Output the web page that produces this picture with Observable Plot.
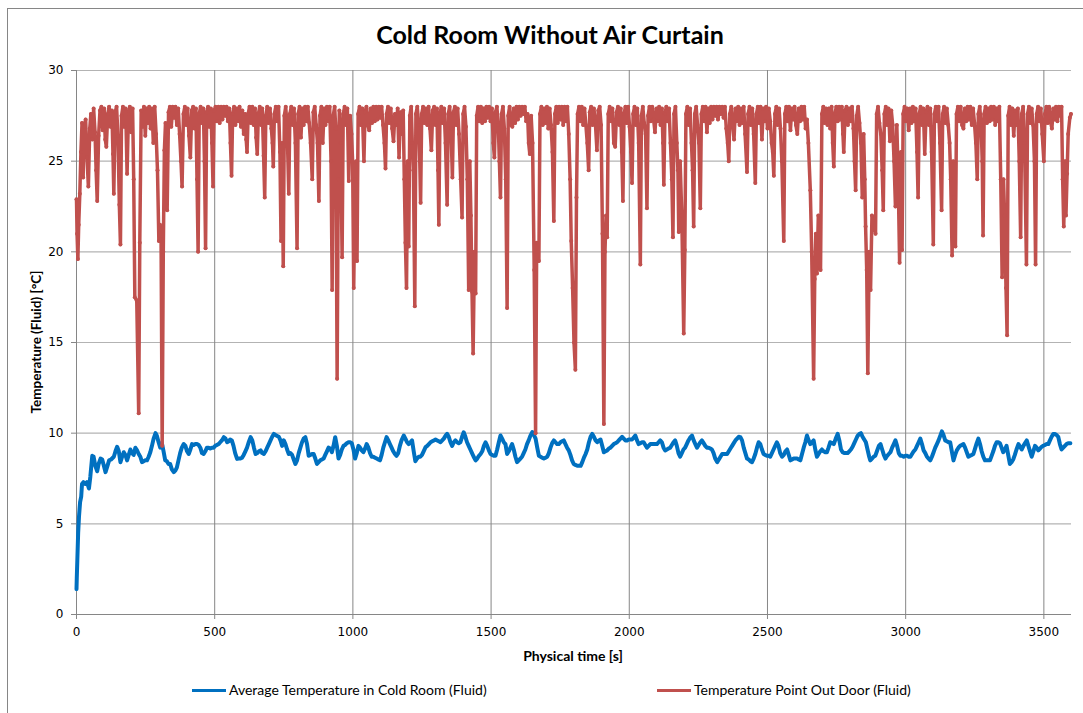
<!DOCTYPE html>
<html>
<head>
<meta charset="utf-8">
<script src="https://cdn.jsdelivr.net/npm/d3@7"></script>
<script src="https://cdn.jsdelivr.net/npm/@observablehq/plot@0.6"></script>
<style>
  body { margin: 0; background: #fff; overflow: hidden; }
  #chart { position: relative; width: 1083px; height: 713px; overflow: hidden; background: #fff; }
  #chart svg { position: absolute; left: 0; top: 0; }
  .frame { position: absolute; left: 7px; top: 8px; width: 1200px; height: 800px; border: 1px solid #868686; box-sizing: border-box; }
  .title { position: absolute; left: 0; top: 19px; width: 1100px; text-align: center; font: bold 25px Lato, sans-serif; color: #000; }
  .xlabel { position: absolute; left: 473px; width: 200px; top: 647px; text-align: center; font: bold 14px Lato, sans-serif; color: #000; }
  .ylabel { position: absolute; left: 36px; top: 342px; transform: translate(-50%, -50%) rotate(-90deg); white-space: nowrap; font: bold 13.5px Lato, sans-serif; color: #000; }
  .legend-line { position: absolute; height: 3px; width: 34px; }
  .legend-text { position: absolute; top: 681px; font: 14px Lato, sans-serif; color: #000; white-space: nowrap; }
</style>
</head>
<body>
<div id="chart">
  <div class="frame"></div>
  <div class="title">Cold Room Without Air Curtain</div>
  <div class="xlabel">Physical time [s]</div>
  <div class="ylabel">Temperature (Fluid) [°C]</div>
  <div class="legend-line" style="left:192px; top:689px; background:#0070C0"></div>
  <div class="legend-text" style="left:229px">Average Temperature in Cold Room (Fluid)</div>
  <div class="legend-line" style="left:657px; top:689px; background:#C0504D"></div>
  <div class="legend-text" style="left:694px">Temperature Point Out Door (Fluid)</div>
</div>
<script>
// Axis ticks
const timeTicks = [0, 500, 1000, 1500, 2000, 2500, 3000, 3500];
const tempTicks = [0, 5, 10, 15, 20, 25, 30];

// Series names (legend)
const seriesNames = ["Average Temperature in Cold Room (Fluid)", "Temperature Point Out Door (Fluid)"];

// Average temperature in the cold room: [time s, °C]
const coldRoomAvg = [
[0,1.4],[1,2.0],[3,3.0],[6,4.5],[9,5.4],[13,6.2],[17,6.5],[20,7.2],[25,7.3],[32,7.2],[38,7.3],[45,6.95],[50,7.6],[57,8.75],[62,8.7],[68,8.2],[75,7.9],[80,8.3],[87,8.6],[93,8.55],[99,8.2],[105,7.85],[112,8.2],[118,8.5],[125,8.55],[135,8.7],[141,9.0],[147,9.25],[153,9.0],[159,8.4],[165,8.7],[171,8.95],[177,8.8],[183,8.5],[189,8.8],[195,9.1],[201,8.9],[207,8.8],[213,9.2],[219,9.05],[225,8.85],[231,8.7],[237,8.4],[243,8.45],[249,8.5],[255,8.5],[261,8.7],[267,8.95],[273,9.3],[279,9.7],[286,10.0],[291,9.85],[297,9.5],[303,9.2],[309,9.45],[315,9.0],[321,8.5],[327,8.45],[333,8.3],[339,8.3],[345,8.0],[352,7.85],[358,7.95],[363,8.1],[369,8.5],[375,8.9],[381,9.2],[388,9.4],[394,9.3],[400,9.0],[406,8.85],[412,9.1],[418,9.4],[424,9.35],[430,9.4],[436,9.4],[442,9.35],[448,9.2],[454,8.9],[460,8.85],[466,9.0],[472,9.2],[478,9.2],[484,9.15],[490,9.2],[496,9.2],[502,9.3],[508,9.35],[514,9.4],[520,9.5],[526,9.6],[533,9.78],[539,9.7],[545,9.5],[551,9.55],[556,9.65],[562,9.6],[568,9.3],[574,8.9],[581,8.58],[587,8.6],[593,8.6],[599,8.65],[605,8.8],[611,9.0],[617,9.2],[623,9.5],[630,9.78],[636,9.6],[642,9.2],[648,8.85],[654,8.9],[660,9.0],[666,9.05],[672,8.9],[678,8.85],[684,9.0],[690,9.2],[696,9.4],[702,9.6],[708,9.8],[714,9.96],[720,9.9],[726,9.85],[732,9.8],[738,9.6],[744,9.3],[750,9.6],[756,9.4],[762,9.1],[768,8.85],[774,8.9],[780,8.8],[786,8.55],[792,8.3],[798,8.5],[804,8.9],[810,9.2],[816,9.5],[822,9.7],[828,9.78],[834,9.4],[840,8.75],[846,8.8],[852,8.85],[858,8.85],[864,8.6],[870,8.3],[876,8.4],[882,8.5],[888,8.55],[894,8.6],[900,8.8],[906,9.0],[912,9.2],[918,9.15],[924,8.95],[930,9.3],[936,9.78],[942,9.3],[948,8.6],[954,8.8],[960,9.1],[966,9.3],[972,9.35],[978,9.45],[984,9.5],[990,9.5],[996,9.45],[1002,9.1],[1008,8.6],[1014,8.9],[1020,9.3],[1026,9.2],[1032,9.05],[1038,8.95],[1044,9.15],[1050,9.4],[1056,9.2],[1062,8.9],[1068,8.7],[1074,8.7],[1080,8.65],[1086,8.6],[1092,8.55],[1098,8.5],[1104,8.8],[1110,9.2],[1116,9.5],[1122,9.78],[1128,9.6],[1134,9.4],[1140,9.2],[1146,9.0],[1152,8.85],[1158,8.75],[1164,8.9],[1170,9.3],[1176,9.6],[1184,9.87],[1190,9.7],[1196,9.5],[1202,9.4],[1208,9.5],[1214,9.6],[1220,9.0],[1226,8.45],[1232,8.6],[1238,8.7],[1244,8.7],[1250,8.8],[1256,9.0],[1263,9.23],[1269,9.3],[1275,9.4],[1281,9.5],[1287,9.55],[1293,9.6],[1299,9.65],[1305,9.6],[1311,9.55],[1317,9.5],[1323,9.6],[1329,9.7],[1335,9.85],[1341,9.96],[1347,9.8],[1353,9.5],[1359,9.3],[1365,9.5],[1371,9.6],[1377,9.5],[1383,9.45],[1389,9.5],[1395,9.8],[1401,10.05],[1407,9.8],[1413,9.5],[1419,9.3],[1425,9.1],[1431,8.9],[1437,8.7],[1444,8.5],[1450,8.6],[1456,8.75],[1462,8.85],[1468,9.0],[1474,9.3],[1480,9.5],[1486,9.3],[1492,9.05],[1498,8.85],[1504,8.8],[1510,8.75],[1516,8.75],[1522,9.1],[1528,9.5],[1534,9.87],[1540,9.7],[1546,9.5],[1552,9.4],[1558,8.85],[1564,9.0],[1570,9.2],[1576,9.4],[1582,9.1],[1588,8.7],[1594,8.4],[1600,8.5],[1606,8.6],[1612,8.7],[1618,8.9],[1624,9.1],[1630,9.4],[1636,9.6],[1642,9.85],[1649,10.06],[1655,9.9],[1661,9.7],[1667,9.2],[1673,8.75],[1679,8.7],[1685,8.65],[1691,8.6],[1697,8.65],[1703,8.7],[1709,8.9],[1715,9.2],[1721,9.45],[1727,9.6],[1733,9.5],[1739,9.4],[1745,9.4],[1751,9.5],[1757,9.55],[1763,9.6],[1769,9.4],[1775,9.2],[1781,9.05],[1787,8.8],[1793,8.5],[1799,8.3],[1805,8.25],[1812,8.2],[1818,8.2],[1824,8.2],[1830,8.4],[1836,8.65],[1842,8.85],[1848,9.1],[1854,9.5],[1860,9.8],[1866,9.96],[1872,9.8],[1878,9.6],[1884,9.5],[1890,9.6],[1896,9.65],[1902,9.3],[1908,8.95],[1914,9.0],[1920,9.05],[1926,9.15],[1932,9.2],[1938,9.3],[1944,9.4],[1950,9.45],[1956,9.5],[1962,9.6],[1968,9.7],[1974,9.8],[1980,9.7],[1986,9.6],[1992,9.6],[1998,9.65],[2004,9.65],[2010,9.65],[2016,9.75],[2022,9.87],[2028,9.6],[2034,9.4],[2040,9.45],[2046,9.5],[2052,9.5],[2058,9.35],[2064,9.2],[2070,9.3],[2076,9.4],[2082,9.4],[2088,9.4],[2094,9.4],[2100,9.4],[2106,9.5],[2112,9.6],[2118,9.5],[2124,9.2],[2130,9.05],[2136,9.1],[2142,9.15],[2148,9.2],[2154,9.35],[2160,9.5],[2166,9.6],[2172,9.3],[2178,8.9],[2184,8.7],[2190,8.9],[2196,9.1],[2202,9.2],[2208,9.4],[2214,9.6],[2220,9.75],[2227,9.87],[2233,9.6],[2239,9.4],[2245,9.2],[2251,9.35],[2257,9.5],[2263,9.6],[2269,9.45],[2275,9.3],[2281,9.2],[2287,9.2],[2293,9.15],[2299,9.1],[2305,8.9],[2311,8.6],[2318,8.4],[2324,8.55],[2330,8.7],[2336,8.85],[2342,8.85],[2348,8.85],[2354,8.85],[2360,9.0],[2366,9.15],[2372,9.3],[2378,9.45],[2384,9.6],[2390,9.7],[2396,9.8],[2402,9.78],[2408,9.6],[2414,9.2],[2420,8.9],[2426,8.6],[2432,8.55],[2438,8.45],[2444,8.4],[2450,8.6],[2456,8.85],[2462,9.2],[2468,9.5],[2474,9.4],[2480,9.1],[2486,8.85],[2492,8.8],[2498,8.75],[2504,8.75],[2510,8.7],[2516,8.9],[2522,9.1],[2528,9.3],[2534,9.5],[2540,9.3],[2546,8.9],[2553,8.7],[2559,8.8],[2565,9.0],[2571,9.1],[2577,8.8],[2583,8.5],[2589,8.55],[2595,8.6],[2601,8.6],[2607,8.6],[2613,8.55],[2619,8.5],[2625,8.85],[2631,9.2],[2637,9.5],[2643,9.87],[2649,9.6],[2655,9.4],[2661,9.5],[2667,9.6],[2673,9.1],[2679,8.7],[2685,8.85],[2691,9.0],[2697,9.1],[2703,9.0],[2709,8.95],[2715,8.95],[2721,9.2],[2727,9.5],[2734,9.45],[2740,9.4],[2747,9.7],[2754,9.96],[2760,9.6],[2766,9.1],[2772,8.95],[2778,8.9],[2784,8.9],[2790,8.9],[2796,9.0],[2802,9.1],[2808,9.25],[2814,9.45],[2820,9.65],[2826,9.85],[2832,9.95],[2838,10.0],[2844,9.8],[2850,9.65],[2856,9.5],[2862,9.1],[2868,8.7],[2872,8.5],[2878,8.6],[2884,8.7],[2890,8.75],[2896,9.0],[2903,9.3],[2909,9.4],[2915,9.1],[2921,8.8],[2927,8.6],[2933,8.75],[2939,8.85],[2945,8.95],[2951,9.2],[2957,9.4],[2963,9.6],[2969,9.3],[2975,8.9],[2981,8.75],[2987,8.75],[2993,8.7],[2999,8.75],[3005,8.75],[3011,8.7],[3017,8.7],[3023,8.85],[3029,9.0],[3035,9.1],[3041,9.3],[3047,9.5],[3053,9.7],[3059,9.4],[3065,9.05],[3071,8.9],[3077,8.7],[3083,8.6],[3089,8.5],[3095,8.7],[3101,8.95],[3107,9.2],[3113,9.4],[3119,9.6],[3125,9.85],[3131,10.1],[3137,9.9],[3143,9.6],[3149,9.55],[3155,9.5],[3161,9.5],[3167,9.0],[3173,8.5],[3179,8.8],[3185,9.05],[3191,9.2],[3197,9.3],[3203,9.35],[3209,9.4],[3215,9.2],[3221,8.95],[3227,8.7],[3233,8.75],[3239,8.8],[3245,8.85],[3251,9.15],[3257,9.45],[3263,9.7],[3269,9.4],[3275,9.0],[3281,8.7],[3287,8.5],[3293,8.5],[3299,8.5],[3305,8.5],[3311,8.75],[3317,9.0],[3323,9.3],[3329,9.5],[3335,9.5],[3341,9.45],[3347,9.2],[3353,8.95],[3359,9.1],[3365,9.3],[3371,8.8],[3377,8.3],[3383,8.4],[3389,8.55],[3395,8.8],[3401,9.1],[3408,9.4],[3414,9.25],[3420,9.1],[3426,9.3],[3432,9.45],[3438,9.6],[3444,9.3],[3450,9.0],[3456,8.7],[3462,9.0],[3468,9.3],[3474,9.2],[3480,9.05],[3486,9.15],[3492,9.25],[3498,9.3],[3504,9.35],[3510,9.4],[3516,9.4],[3522,9.6],[3528,9.8],[3534,9.96],[3540,9.95],[3546,9.9],[3552,9.8],[3558,9.4],[3564,9.1],[3570,9.2],[3576,9.3],[3582,9.4],[3588,9.45],[3596,9.45]
];

// Temperature at the point outside the door: [time s, °C]
const outDoorPoint = [
[0,22.9],[2,21.0],[5,19.6],[8,21.5],[12,23.2],[16,25.5],[20,27.1],[24,24.1],[28,26.9],[33,27.3],[38,25.2],[43,23.6],[48,26.8],[52,27.6],[57,26.2],[62,27.9],[67,26.6],[71,24.5],[75,22.8],[80,26.4],[85,27.8],[90,28.0],[95,26.7],[100,27.9],[104,26.2],[108,25.8],[113,27.6],[118,28.0],[123,26.9],[128,27.8],[132,25.4],[135,23.2],[140,27.7],[145,28.0],[150,26.4],[155,22.6],[159,20.4],[163,27.5],[168,28.0],[173,26.9],[178,27.9],[183,24.3],[188,27.6],[193,28.0],[198,26.6],[203,27.9],[207,24.0],[211,17.5],[218,17.3],[225,11.1],[229,20.5],[234,27.8],[239,26.9],[244,28.0],[249,26.4],[253,27.9],[258,27.1],[263,28.0],[268,26.8],[273,27.9],[278,26.0],[283,28.0],[288,26.5],[293,24.5],[298,20.6],[302,21.5],[306,20.7],[310,9.3],[314,20.0],[318,25.6],[322,27.1],[326,25.0],[328,22.3],[333,27.7],[338,28.0],[343,26.9],[348,28.0],[353,27.4],[358,28.0],[363,27.0],[368,27.9],[373,26.5],[378,25.0],[382,23.6],[387,27.6],[392,28.0],[397,27.0],[402,27.9],[407,26.4],[412,25.2],[417,27.8],[422,28.0],[427,26.8],[432,27.9],[436,24.0],[440,20.0],[444,27.6],[449,28.0],[454,27.1],[459,27.9],[463,25.0],[467,20.2],[471,27.7],[476,28.0],[481,26.9],[486,27.9],[490,26.0],[494,23.6],[498,27.8],[503,28.0],[508,27.2],[513,28.0],[518,27.1],[523,28.0],[528,27.3],[533,28.0],[538,27.5],[543,28.0],[548,27.2],[553,27.9],[557,26.0],[561,24.2],[565,27.6],[570,28.0],[575,27.0],[580,27.9],[585,27.2],[590,28.0],[595,26.9],[600,27.8],[605,26.5],[610,27.6],[614,26.2],[617,25.5],[621,27.6],[626,28.0],[631,27.1],[636,28.0],[641,27.0],[646,27.9],[650,26.3],[654,25.4],[658,27.6],[663,28.0],[668,27.0],[672,27.9],[677,25.3],[681,23.0],[685,27.5],[690,28.0],[695,27.1],[700,27.9],[705,26.8],[709,26.0],[712,24.7],[716,27.6],[721,28.0],[726,27.2],[731,28.0],[736,25.5],[740,20.6],[744,26.0],[748,19.2],[752,27.5],[757,28.0],[762,26.9],[768,23.2],[772,27.6],[777,28.0],[782,27.0],[787,27.9],[792,26.0],[798,20.2],[802,27.6],[807,28.0],[812,26.3],[817,27.9],[822,27.0],[827,28.0],[832,27.2],[837,28.0],[842,27.1],[847,26.0],[853,24.0],[857,27.7],[862,28.0],[867,27.0],[872,26.0],[877,22.8],[881,27.5],[886,28.0],[891,26.0],[896,27.9],[901,27.0],[906,28.0],[911,27.2],[916,28.0],[921,25.0],[925,17.9],[929,27.5],[934,28.0],[938,26.8],[943,13.0],[947,24.0],[951,27.8],[956,26.0],[961,19.7],[965,27.6],[970,28.0],[975,27.0],[980,27.9],[985,23.9],[990,27.5],[995,26.5],[999,25.0],[1003,18.0],[1008,24.0],[1012,25.0],[1015,19.5],[1019,27.6],[1024,28.0],[1029,27.0],[1034,27.9],[1040,25.0],[1044,27.7],[1049,28.0],[1054,27.0],[1059,26.7],[1064,27.9],[1069,27.1],[1074,28.0],[1079,27.2],[1084,28.0],[1089,27.3],[1094,28.0],[1099,27.4],[1104,28.0],[1109,27.0],[1114,26.0],[1118,24.6],[1122,27.6],[1127,28.0],[1132,27.1],[1137,27.9],[1142,26.8],[1147,26.1],[1152,27.6],[1157,27.0],[1162,27.9],[1167,25.2],[1172,27.7],[1177,26.5],[1182,27.8],[1186,24.0],[1190,20.5],[1194,18.0],[1198,25.0],[1202,20.3],[1206,27.5],[1211,28.0],[1215,26.0],[1219,24.5],[1224,17.0],[1228,27.6],[1233,28.0],[1238,27.0],[1242,25.0],[1245,22.7],[1249,27.6],[1254,28.0],[1259,27.1],[1264,27.9],[1269,27.0],[1274,28.0],[1279,26.8],[1284,25.6],[1289,27.8],[1294,28.0],[1299,27.0],[1304,27.9],[1308,24.5],[1311,21.5],[1315,27.6],[1320,28.0],[1325,27.1],[1330,27.9],[1335,26.0],[1341,22.6],[1345,27.6],[1350,28.0],[1355,26.8],[1360,24.1],[1364,27.7],[1369,28.0],[1374,27.0],[1379,27.9],[1384,26.5],[1390,24.0],[1395,21.9],[1399,27.6],[1404,28.0],[1409,26.9],[1414,24.0],[1419,17.9],[1423,25.0],[1427,22.0],[1431,17.8],[1435,14.4],[1440,20.0],[1444,17.7],[1448,27.5],[1453,28.0],[1458,27.2],[1463,28.0],[1468,27.1],[1473,27.9],[1478,27.2],[1483,28.0],[1488,27.4],[1493,28.0],[1498,27.2],[1503,27.9],[1508,26.0],[1512,25.2],[1516,27.7],[1521,28.0],[1526,27.0],[1530,25.0],[1534,23.0],[1538,27.6],[1543,28.0],[1548,26.8],[1553,24.0],[1558,16.9],[1562,27.5],[1567,28.0],[1572,27.0],[1577,26.9],[1582,27.9],[1587,27.1],[1592,28.0],[1597,27.3],[1602,28.0],[1607,27.5],[1612,28.0],[1617,27.6],[1622,28.0],[1627,27.2],[1632,27.6],[1636,26.0],[1640,25.4],[1645,27.5],[1650,26.0],[1656,19.0],[1661,10.0],[1665,20.5],[1669,19.5],[1673,19.5],[1677,27.6],[1682,28.0],[1687,27.0],[1692,27.9],[1697,27.1],[1702,28.0],[1707,26.8],[1712,27.9],[1717,27.0],[1722,25.5],[1727,21.7],[1731,27.6],[1736,28.0],[1741,27.1],[1746,28.0],[1751,27.3],[1756,28.0],[1761,27.0],[1766,28.0],[1771,27.2],[1776,28.0],[1781,26.5],[1786,24.0],[1790,20.6],[1795,18.0],[1800,15.0],[1805,13.5],[1809,23.0],[1813,27.6],[1818,28.0],[1823,27.2],[1828,28.0],[1833,27.0],[1838,27.9],[1843,27.0],[1848,26.0],[1853,24.5],[1857,27.7],[1862,28.0],[1867,27.0],[1872,27.9],[1877,27.2],[1883,25.6],[1888,27.8],[1893,28.0],[1898,27.0],[1903,21.0],[1908,10.5],[1912,20.0],[1916,22.0],[1920,20.8],[1924,27.6],[1929,28.0],[1934,27.2],[1939,27.9],[1944,26.0],[1949,25.8],[1954,27.7],[1959,28.0],[1964,27.0],[1969,27.9],[1973,25.5],[1977,22.8],[1981,27.6],[1986,28.0],[1991,27.1],[1996,28.0],[2001,26.9],[2006,25.5],[2010,23.8],[2014,27.6],[2019,28.0],[2024,27.0],[2029,27.9],[2034,26.0],[2040,19.3],[2044,27.5],[2049,28.0],[2054,27.1],[2059,26.5],[2064,22.4],[2068,27.5],[2073,28.0],[2078,27.2],[2083,28.0],[2088,27.3],[2093,26.6],[2098,27.9],[2103,27.2],[2108,28.0],[2113,27.0],[2118,27.9],[2122,26.0],[2125,23.7],[2129,27.6],[2134,28.0],[2139,27.2],[2144,27.9],[2149,26.0],[2154,24.0],[2158,20.8],[2162,27.6],[2167,28.0],[2172,26.0],[2176,24.5],[2179,21.1],[2184,25.0],[2190,22.0],[2197,15.5],[2201,20.1],[2205,27.6],[2210,28.0],[2215,27.0],[2220,27.9],[2225,26.0],[2229,24.5],[2233,21.4],[2237,27.6],[2242,28.0],[2247,27.0],[2252,26.0],[2257,22.4],[2261,27.6],[2266,28.0],[2271,27.2],[2276,28.0],[2281,26.6],[2286,27.9],[2291,27.1],[2296,28.0],[2301,27.3],[2306,28.0],[2311,27.5],[2316,28.0],[2321,27.3],[2326,28.0],[2331,27.6],[2336,28.0],[2341,27.4],[2346,28.0],[2351,26.8],[2356,26.0],[2360,25.0],[2364,27.6],[2369,28.0],[2374,27.0],[2379,26.2],[2384,27.9],[2389,27.2],[2394,28.0],[2399,27.0],[2404,27.9],[2409,27.1],[2414,28.0],[2419,26.5],[2426,24.4],[2430,27.6],[2435,28.0],[2440,27.0],[2445,27.9],[2450,26.5],[2456,23.8],[2460,27.6],[2465,28.0],[2470,27.1],[2475,28.0],[2480,26.2],[2485,27.9],[2490,27.2],[2495,28.0],[2500,26.8],[2505,27.9],[2510,27.2],[2515,26.0],[2519,25.5],[2523,24.2],[2527,27.6],[2532,28.0],[2537,27.0],[2542,27.9],[2547,26.8],[2552,25.0],[2559,20.6],[2563,27.6],[2568,28.0],[2573,27.2],[2578,28.0],[2583,26.7],[2588,27.9],[2593,27.3],[2598,28.0],[2603,27.0],[2608,26.5],[2613,27.9],[2618,27.2],[2623,28.0],[2628,27.3],[2633,28.0],[2638,26.8],[2643,27.3],[2648,26.0],[2655,23.4],[2660,20.0],[2667,13.0],[2671,18.5],[2675,21.0],[2679,18.8],[2684,22.0],[2688,19.2],[2692,19.0],[2697,27.6],[2702,28.0],[2707,27.1],[2712,27.9],[2717,27.0],[2722,27.9],[2727,26.8],[2732,28.0],[2736,26.0],[2740,24.7],[2744,27.6],[2749,28.0],[2754,27.2],[2759,28.0],[2764,27.3],[2769,28.0],[2773,26.5],[2776,25.5],[2781,27.8],[2786,28.0],[2791,27.0],[2796,27.9],[2801,27.2],[2806,28.0],[2811,26.8],[2815,25.0],[2819,23.4],[2823,27.5],[2828,28.0],[2833,27.1],[2838,26.0],[2843,23.0],[2848,26.5],[2852,24.0],[2855,21.4],[2859,19.0],[2863,13.3],[2868,20.0],[2873,17.9],[2878,22.0],[2884,21.8],[2891,21.0],[2895,27.6],[2900,28.0],[2905,27.1],[2910,26.5],[2915,24.5],[2919,22.3],[2923,27.6],[2928,28.0],[2933,27.0],[2938,27.9],[2943,26.1],[2948,27.8],[2953,27.0],[2958,25.0],[2963,22.5],[2968,27.0],[2973,24.0],[2978,19.4],[2983,25.5],[2987,20.1],[2991,27.6],[2996,28.0],[3001,27.2],[3006,27.9],[3011,26.7],[3016,27.9],[3021,27.1],[3026,28.0],[3031,27.2],[3036,27.9],[3041,25.5],[3045,23.0],[3049,27.6],[3054,28.0],[3059,27.0],[3064,27.9],[3069,25.4],[3074,27.7],[3079,28.0],[3084,27.0],[3089,27.9],[3094,25.5],[3100,20.4],[3104,27.6],[3109,28.0],[3114,27.2],[3119,28.0],[3124,26.0],[3130,22.3],[3134,27.6],[3139,28.0],[3144,27.1],[3149,27.9],[3154,27.0],[3159,26.0],[3163,24.0],[3168,19.8],[3172,25.0],[3176,23.0],[3180,20.3],[3184,27.6],[3189,28.0],[3194,27.2],[3199,28.0],[3204,27.0],[3209,26.8],[3214,27.9],[3219,27.2],[3224,28.0],[3229,27.3],[3234,28.0],[3239,27.0],[3244,27.9],[3249,27.1],[3254,26.0],[3259,24.0],[3263,27.6],[3268,28.0],[3273,27.0],[3277,25.0],[3280,20.9],[3284,27.6],[3289,28.0],[3294,27.1],[3299,27.9],[3304,27.2],[3309,28.0],[3314,27.3],[3319,28.0],[3324,27.0],[3329,27.9],[3334,27.2],[3339,28.0],[3344,24.0],[3349,18.6],[3354,24.0],[3358,22.0],[3363,18.0],[3367,15.4],[3371,27.5],[3376,28.0],[3381,27.0],[3386,27.9],[3391,26.4],[3396,27.8],[3401,27.0],[3406,27.9],[3411,25.0],[3416,20.8],[3420,27.6],[3425,28.0],[3430,26.0],[3437,19.3],[3441,27.6],[3446,28.0],[3451,27.1],[3456,27.9],[3461,27.0],[3466,25.0],[3470,19.3],[3474,27.6],[3479,28.0],[3484,27.2],[3489,27.9],[3494,26.5],[3500,25.0],[3504,27.6],[3509,28.0],[3514,27.1],[3519,28.0],[3524,27.2],[3529,26.8],[3534,27.9],[3539,27.3],[3544,28.0],[3549,27.2],[3554,28.0],[3559,27.5],[3564,28.0],[3568,24.0],[3572,21.4],[3577,25.0],[3580,22.0],[3584,24.3],[3588,26.5],[3594,27.4],[3598,27.6]
];

const indoor = coldRoomAvg.map(([t, v]) => ({t, v, series: seriesNames[0]}));
const outdoor = outDoorPoint.map(([t, v]) => ({t, v, series: seriesNames[1]}));

const blue = "#0070C0";
const red = "#C0504D";
const axisGray = "#868686";

const chart = Plot.plot({
  width: 1083,
  height: 670,
  marginLeft: 76,
  marginRight: 12,
  marginTop: 70,
  marginBottom: 56,
  style: { fontFamily: "DejaVu Sans, sans-serif", fontSize: "12px", color: "#000", background: "transparent", overflow: "visible" },
  x: { domain: [0, 3600], label: null },
  y: { domain: [0, 30], label: null },
  marks: [
    // horizontal gridlines
    Plot.ruleY(tempTicks.filter(d => d > 0), { stroke: "#b3b3b3", strokeWidth: 1.2 }),
    // vertical gridlines
    Plot.ruleX(timeTicks.filter(d => d > 0), { stroke: axisGray, strokeWidth: 1 }),
    // axis lines
    Plot.ruleX([0], { stroke: axisGray, strokeWidth: 1 }),
    Plot.ruleY([0], { stroke: axisGray, strokeWidth: 1 }),
    Plot.axisX({ ticks: timeTicks, tickSize: 5, tickPadding: 8, stroke: axisGray, fill: "#000", label: null, tickFormat: d => String(d) }),
    Plot.axisY({ ticks: tempTicks, tickSize: 5, tickPadding: 8, stroke: axisGray, fill: "#000", label: null }),
    // series
    Plot.line(indoor, { x: "t", y: "v", stroke: blue, strokeWidth: 4, strokeLinejoin: "round", strokeLinecap: "round" }),
    Plot.line(outdoor, { x: "t", y: "v", stroke: red, strokeWidth: 3.5, strokeLinejoin: "round", strokeLinecap: "round" }),
    Plot.dot(outdoor, { x: "t", y: "v", r: 2, fill: red, stroke: "none" })
  ]
});

document.getElementById("chart").appendChild(chart);
</script>
</body>
</html>
